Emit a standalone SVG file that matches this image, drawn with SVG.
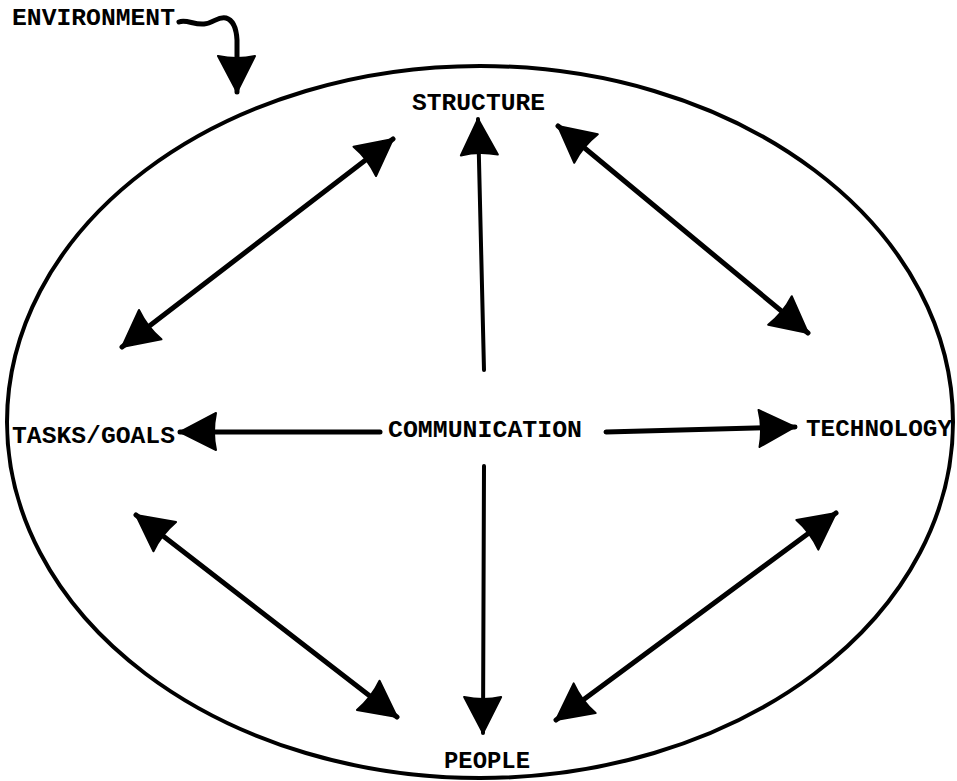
<svg xmlns="http://www.w3.org/2000/svg" width="957" height="781" viewBox="0 0 957 781">
<style>
text { font-family: "Liberation Mono", "DejaVu Sans Mono", monospace; font-weight: bold; font-size: 23px; fill: #000; }
.ln { stroke: #000; stroke-width: 5; fill: none; stroke-linecap: round; }
.thin { stroke-width: 4; }
</style>
<defs>
<marker id="ah" markerUnits="userSpaceOnUse" markerWidth="40" markerHeight="42" refX="38" refY="20" orient="auto-start-reverse" viewBox="0 0 40 42">
<path d="M2,2 L38,20 L2,39 Q6,20 2,2 z" fill="#000" stroke="#000" stroke-width="2" stroke-linejoin="round"/>
</marker>
</defs>
<rect width="957" height="781" fill="#fff"/>
<g id="environment-boundary">
<ellipse cx="480" cy="422" rx="473" ry="356" fill="none" stroke="#000" stroke-width="4"/>
</g>
<g id="environment">
<text x="12" y="25" textLength="163" lengthAdjust="spacingAndGlyphs">ENVIRONMENT</text>
</g>
<g id="structure"><text x="412" y="110" textLength="133" lengthAdjust="spacingAndGlyphs">STRUCTURE</text></g>
<g id="tasks-goals"><text x="12" y="443" textLength="163" lengthAdjust="spacingAndGlyphs">TASKS/GOALS</text></g>
<g id="communication"><text x="388" y="437" textLength="194" lengthAdjust="spacingAndGlyphs">COMMUNICATION</text></g>
<g id="technology"><text x="806" y="436" textLength="146" lengthAdjust="spacingAndGlyphs">TECHNOLOGY</text></g>
<g id="people"><text x="444" y="768" textLength="86" lengthAdjust="spacingAndGlyphs">PEOPLE</text></g>
<g id="connectors">
<path class="ln" d="M179,22 C186,19 194,25 204,24 C214,23 218,16 226,18 Q236,21 237,40 L237,92" marker-end="url(#ah)"/>
<line class="ln thin" x1="484" y1="370" x2="478" y2="119" marker-end="url(#ah)"/>
<line class="ln thin" x1="484" y1="466" x2="483" y2="733" marker-end="url(#ah)"/>
<line class="ln" x1="380" y1="432" x2="180" y2="432" marker-end="url(#ah)"/>
<line class="ln" x1="606" y1="432" x2="795" y2="427" marker-end="url(#ah)"/>
<line class="ln" x1="122" y1="347" x2="393" y2="139" marker-start="url(#ah)" marker-end="url(#ah)"/>
<line class="ln" x1="558" y1="126" x2="808" y2="333" marker-start="url(#ah)" marker-end="url(#ah)"/>
<line class="ln" x1="136" y1="515" x2="397" y2="717" marker-start="url(#ah)" marker-end="url(#ah)"/>
<line class="ln" x1="836" y1="513" x2="556" y2="720" marker-start="url(#ah)" marker-end="url(#ah)"/>
</g>
</svg>
